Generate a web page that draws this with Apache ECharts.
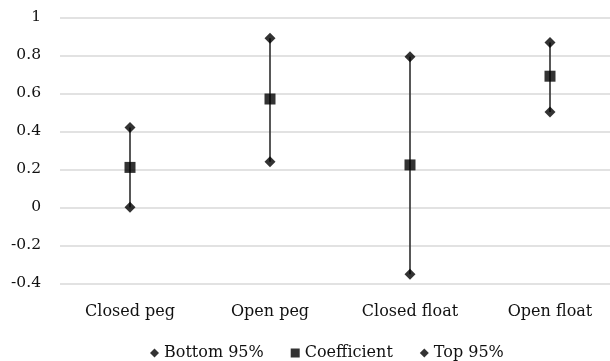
<!DOCTYPE html>
<html>
<head>
<meta charset="utf-8">
<script src="https://cdn.jsdelivr.net/npm/echarts@6/dist/echarts.min.js"></script>
<style>html,body{margin:0;padding:0;background:#fff;}#c{width:610px;height:361px;}</style>
</head>
<body>
<div id="c"></div>
<script>
var categories = ['Closed peg', 'Open peg', 'Closed float', 'Open float'];
var bottom95 = [0.0, 0.24, -0.353, 0.502];
var coefficient = [0.21, 0.57, 0.223, 0.69];
var top95 = [0.42, 0.89, 0.793, 0.868];
var yTicks = { min: -0.4, max: 1, interval: 0.2 };

var font = 'Palatino Linotype, Book Antiqua, DejaVu Serif, serif';
var chart = echarts.init(document.getElementById('c'), null, { renderer: 'canvas' });
var rangeData = categories.map(function (c, i) { return [i, bottom95[i], top95[i]]; });
var diamond = 'path://M0,-1L1,0L0,1L-1,0Z';
chart.setOption({
  animation: false,
  textStyle: { fontFamily: font },
  grid: { left: 60, top: 17.3, width: 560, height: 266, outerBoundsMode: 'none', containLabel: false },
  legend: {
    top: 340, left: 145, itemGap: 27, itemWidth: 9, itemHeight: 9,
    textStyle: { fontFamily: font, fontSize: 16, color: '#111' },
    data: [
      { name: 'Bottom 95%', icon: diamond },
      { name: 'Coefficient', icon: 'rect' },
      { name: 'Top 95%', icon: diamond }
    ]
  },
  xAxis: {
    type: 'category', data: categories,
    axisLine: { show: false }, axisTick: { show: false },
    axisLabel: { fontFamily: font, fontSize: 16, color: '#111', margin: 21 }
  },
  yAxis: {
    type: 'value', min: yTicks.min, max: yTicks.max, interval: yTicks.interval,
    axisLabel: {
      fontFamily: font, fontSize: 15.5, color: '#111', margin: 19,
      formatter: function (v) { return String(Math.round(v * 10) / 10); }
    },
    splitLine: { lineStyle: { color: '#d9d9d9', width: 1.5 } },
    axisLine: { show: false }, axisTick: { show: false }
  },
  series: [
    {
      type: 'custom', name: 'range', silent: true, z: 1,
      renderItem: function (params, api) {
        var p1 = api.coord([api.value(0), api.value(1)]);
        var p2 = api.coord([api.value(0), api.value(2)]);
        return { type: 'line', shape: { x1: p1[0], y1: p1[1], x2: p2[0], y2: p2[1] },
          style: { stroke: '#3a3a3a', lineWidth: 1.7 } };
      },
      data: rangeData
    },
    { name: 'Bottom 95%', type: 'scatter', symbol: diamond, symbolSize: 11, z: 3,
      itemStyle: { color: '#000' }, data: bottom95 },
    { name: 'Coefficient', type: 'scatter', symbol: 'rect', symbolSize: 11, z: 3,
      itemStyle: { color: '#000' }, data: coefficient },
    { name: 'Top 95%', type: 'scatter', symbol: diamond, symbolSize: 11, z: 3,
      itemStyle: { color: '#000' }, data: top95 }
  ]
});
</script>
</body>
</html>
